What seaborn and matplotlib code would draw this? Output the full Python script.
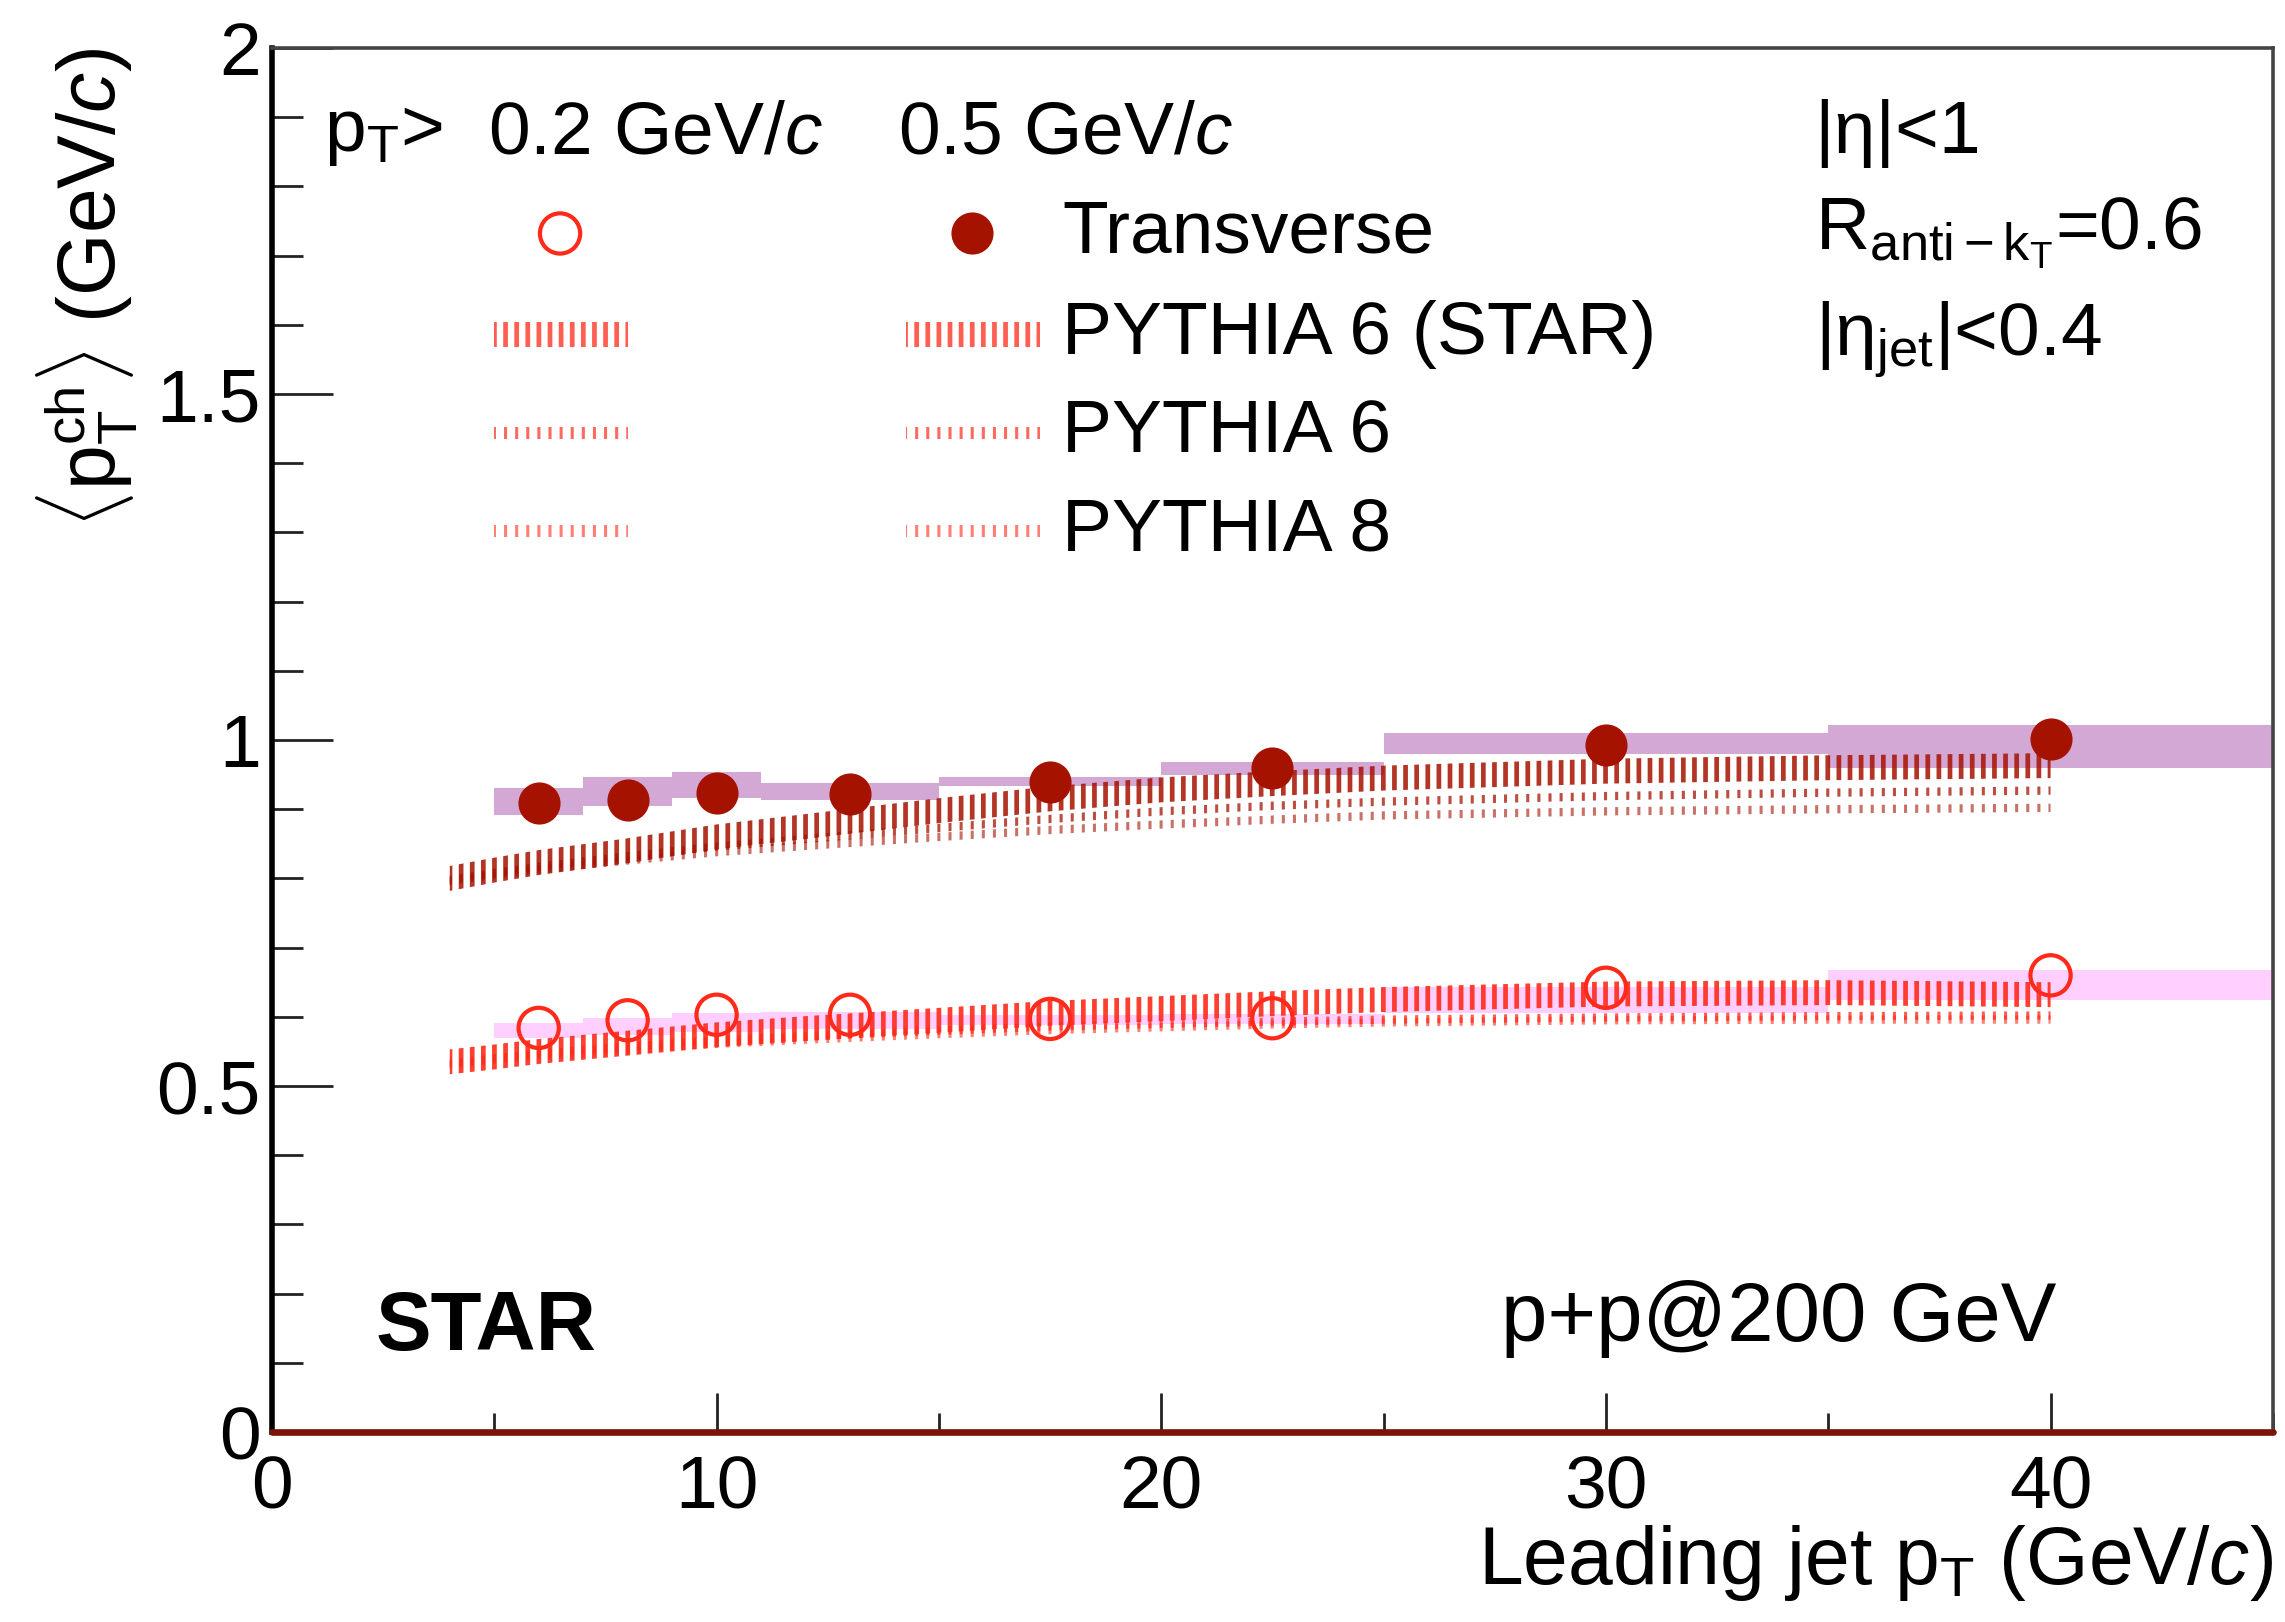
import numpy as np
import pandas as pd
import matplotlib
matplotlib.use("Agg")
import matplotlib.pyplot as plt
import seaborn as sns
from matplotlib.patches import Rectangle
from matplotlib.ticker import MultipleLocator, FuncFormatter

# ---------------- data ----------------
jet_pt = [6, 8, 10, 13, 17.5, 22.5, 30, 40]
bin_lo = [5, 7, 9, 11, 15, 20, 25, 35]
bin_hi = [7, 9, 11, 15, 20, 25, 35, 45]

mean_pt_05 = [0.909, 0.913, 0.923, 0.922, 0.939, 0.960, 0.993, 1.001]
sys_lo_05 = [0.892, 0.905, 0.916, 0.913, 0.934, 0.949, 0.980, 0.960]
sys_hi_05 = [0.931, 0.947, 0.954, 0.938, 0.947, 0.968, 1.010, 1.022]

mean_pt_02 = [0.584, 0.595, 0.603, 0.603, 0.597, 0.598, 0.642, 0.660]
sys_lo_02 = [0.569, 0.574, 0.578, 0.582, 0.588, 0.590, 0.605, 0.624]
sys_hi_02 = [0.591, 0.598, 0.605, 0.607, 0.602, 0.604, 0.643, 0.668]

model_pt = [4, 5, 6, 8, 10, 12, 15, 17.5, 20, 22.5, 25, 30, 35, 40]
p6star_05 = [0.800, 0.812, 0.823, 0.840, 0.860, 0.875, 0.898, 0.915, 0.928, 0.937, 0.945, 0.955, 0.960, 0.963]
p6_05 = [0.798, 0.808, 0.817, 0.832, 0.846, 0.857, 0.873, 0.886, 0.897, 0.905, 0.911, 0.919, 0.924, 0.927]
p8_05 = [0.796, 0.805, 0.813, 0.826, 0.838, 0.847, 0.860, 0.870, 0.878, 0.885, 0.891, 0.897, 0.900, 0.902]
p6star_02 = [0.535, 0.542, 0.550, 0.562, 0.574, 0.583, 0.595, 0.605, 0.612, 0.619, 0.625, 0.633, 0.635, 0.632]
p6_02 = [0.533, 0.540, 0.547, 0.557, 0.566, 0.572, 0.580, 0.586, 0.590, 0.593, 0.596, 0.599, 0.601, 0.602]
p8_02 = [0.531, 0.538, 0.544, 0.553, 0.561, 0.567, 0.575, 0.581, 0.585, 0.589, 0.592, 0.595, 0.596, 0.596]
p6star_err = [0.018, 0.018, 0.018, 0.018, 0.018, 0.018, 0.018, 0.018, 0.018, 0.018, 0.018, 0.018, 0.018, 0.018]
p6_err = [0.006, 0.006, 0.006, 0.006, 0.006, 0.006, 0.006, 0.006, 0.006, 0.006, 0.006, 0.006, 0.006, 0.006]
p8_err = [0.006, 0.006, 0.006, 0.006, 0.006, 0.006, 0.006, 0.006, 0.006, 0.006, 0.006, 0.006, 0.006, 0.006]

xticks = [0, 10, 20, 30, 40]
yticks = [0, 0.5, 1, 1.5, 2]

# ---------------- style ----------------
sns.set_theme(style="ticks")
plt.rcParams["font.family"] = ["Liberation Sans", "DejaVu Sans"]
plt.rcParams["mathtext.fontset"] = "custom"
plt.rcParams["mathtext.rm"] = "Liberation Sans"
plt.rcParams["mathtext.it"] = "Liberation Sans:italic"
plt.rcParams["mathtext.bf"] = "Liberation Sans:bold"
plt.rcParams["text.color"] = "black"
plt.rcParams["axes.labelcolor"] = "black"
plt.rcParams["xtick.color"] = "black"
plt.rcParams["ytick.color"] = "black"

DARK = "#a51200"
RED = "#ff2a1a"
PURPLE = "#d4a8d4"
PINK = "#ffd0ff"
FS = 27       # legend text
FS_TICK = 27
FS_LAB = 29
FS_BIG = 30

fig = plt.figure(figsize=(11.425, 8.11), dpi=200)
ax = fig.add_axes([0.1190, 0.1171, 0.8757, 0.8533])
ax.set_xlim(0, 45)
ax.set_ylim(0, 2)

# systematic boxes
ax.bar(bin_lo, np.subtract(sys_hi_05, sys_lo_05), bottom=sys_lo_05,
       width=np.subtract(bin_hi, bin_lo), align="edge", color=PURPLE,
       linewidth=0, zorder=1)
ax.bar(bin_lo, np.subtract(sys_hi_02, sys_lo_02), bottom=sys_lo_02,
       width=np.subtract(bin_hi, bin_lo), align="edge", color=PINK,
       linewidth=0, zorder=1)


def band(y, err, rgb, alpha, hlw, z):
    col = (*matplotlib.colors.to_rgb(rgb), alpha)
    with plt.rc_context({"hatch.linewidth": hlw, "hatch.color": col}):
        c = ax.fill_between(model_pt, np.subtract(y, err), np.add(y, err),
                            facecolor="none", edgecolor=col, hatch="|||",
                            linewidth=0, zorder=z)
        if hasattr(c, "set_hatch_linewidth"):
            c.set_hatch_linewidth(hlw)
    return c


band(p8_05, p8_err, DARK, 0.6, 1.1, 2)
band(p6_05, p6_err, DARK, 0.75, 1.1, 2)
band(p6star_05, p6star_err, DARK, 0.85, 1.7, 3)
band(p8_02, p8_err, RED, 0.6, 1.1, 2)
band(p6_02, p6_err, RED, 0.75, 1.1, 2)
band(p6star_02, p6star_err, RED, 0.9, 1.7, 3)

# data points
df05 = pd.DataFrame({"pt": jet_pt, "mean": mean_pt_05})
df02 = pd.DataFrame({"pt": jet_pt, "mean": mean_pt_02})
sns.scatterplot(data=df05, x="pt", y="mean", ax=ax, color=DARK, s=230,
                linewidth=0, zorder=6, legend=False)
sns.scatterplot(data=df02, x="pt", y="mean", ax=ax, color=RED, s=210,
                facecolors="none", edgecolor=RED, linewidth=1.5,
                zorder=6, legend=False)

ax.axhline(0, color="#7a1409", lw=2.4, zorder=7, clip_on=False)

# axes styling
ax.set_xticks(xticks)
ax.set_yticks(yticks)
ax.xaxis.set_minor_locator(MultipleLocator(5))
ax.yaxis.set_minor_locator(MultipleLocator(0.1))
fmt = FuncFormatter(lambda v, p: f"{v:g}")
ax.xaxis.set_major_formatter(fmt)
ax.yaxis.set_major_formatter(fmt)
ax.tick_params(which="both", direction="in", top=False, right=False,
               color="#222222", width=1.0, labelsize=FS_TICK)
ax.tick_params(axis="y", which="major", length=22, pad=4)
ax.tick_params(axis="y", which="minor", length=11)
ax.tick_params(axis="x", which="major", length=14, pad=8)
ax.tick_params(axis="x", which="minor", length=7)
for s in ["top", "right"]:
    ax.spines[s].set_color("#444444")
    ax.spines[s].set_linewidth(1.3)
ax.spines["left"].set_color("black")
ax.spines["left"].set_linewidth(2.0)
ax.spines["bottom"].set_color("#7a1409")

ax.set_xlabel(r"Leading jet $\mathrm{p}_{\mathrm{T}}$ (GeV/$\mathit{c}$)",
              fontsize=FS_LAB, loc="right")
ax.xaxis.set_label_coords(1.0, -0.066)
ax.set_ylabel(r"$\langle\mathrm{p}_{\mathrm{T}}^{\mathrm{ch}}\rangle$ (GeV/$\mathit{c}$)",
              fontsize=FS_LAB, loc="top")
ax.yaxis.set_label_coords(-0.066, 1.0)

# legend / annotations (axes coordinates)
T = ax.transAxes
ax.text(0.026, 0.938, r"$\mathrm{p}_{\mathrm{T}}$>", fontsize=FS, transform=T, va="center")
ax.text(0.108, 0.938, r"0.2 GeV/$\mathit{c}$", fontsize=FS, transform=T, va="center")
ax.text(0.313, 0.938, r"0.5 GeV/$\mathit{c}$", fontsize=FS, transform=T, va="center")

ax.scatter([0.144], [0.866], transform=T, s=210, facecolors="none",
           edgecolors=RED, linewidths=1.5, clip_on=False, zorder=8)
ax.scatter([0.350], [0.866], transform=T, s=230, color=DARK, linewidths=0,
           clip_on=False, zorder=8)
ax.text(0.395, 0.866, "Transverse", fontsize=FS, transform=T, va="center")

leg_rows = [(0.793, 0.018, 1.7, 0.75, "PYTHIA 6 (STAR)"),
            (0.722, 0.009, 1.1, 0.7, "PYTHIA 6"),
            (0.651, 0.009, 1.1, 0.6, "PYTHIA 8")]
for yc, h, hlw, a, lab in leg_rows:
    for x0 in [0.111, 0.317]:
        col = (*matplotlib.colors.to_rgb(RED), a)
        with plt.rc_context({"hatch.linewidth": hlw, "hatch.color": col}):
            r = Rectangle((x0, yc - h / 2), 0.067, h, transform=T,
                          facecolor="none", edgecolor=col, hatch="|||",
                          linewidth=0)
            if hasattr(r, "set_hatch_linewidth"):
                r.set_hatch_linewidth(hlw)
            ax.add_patch(r)
    ax.text(0.395, yc, lab, fontsize=FS, transform=T, va="center")

ax.text(0.771, 0.938, "|η|<1", fontsize=FS, transform=T, va="center")
ax.text(0.771, 0.866, r"R$_{\mathrm{anti-k}_{\mathrm{T}}}$=0.6", fontsize=FS,
        transform=T, va="center")
ax.text(0.771, 0.789, r"|η$_{\mathrm{jet}}$|<0.4", fontsize=FS, transform=T,
        va="center")
ax.text(0.052, 0.075, "STAR", fontsize=FS_BIG, fontweight="bold", transform=T,
        va="center")
ax.text(0.614, 0.082, "p+p@200 GeV", fontsize=FS_BIG, transform=T, va="center")

fig.savefig("out.png", dpi=200)
